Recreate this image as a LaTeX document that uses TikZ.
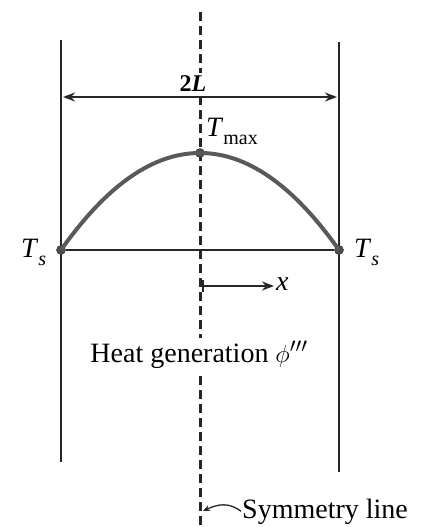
\documentclass[tikz,border=0pt]{standalone}
\usepackage{fontspec}
\setmainfont{Liberation Serif}
\usetikzlibrary{arrows.meta}
\newcommand{\subfs}{\fontsize{20}{22}\selectfont}
\begin{document}
\begin{tikzpicture}[x=1pt,y=-1pt,
  wall/.style={line width=2.6pt,black!85},
  symline/.style={line width=3pt,black!85,dash pattern=on 9pt off 5pt},
  dim/.style={line width=1.9pt,black!85,{Stealth[length=12pt,width=9pt]}-{Stealth[length=12pt,width=9pt]}},
  pt/.style={circle,fill=black!70,draw=black!85,inner sep=0pt,minimum size=9pt},
  lbl/.style={font=\fontsize{28}{32}\selectfont,inner sep=1pt}]
\useasboundingbox (0,0) rectangle (426,527);
% walls
\coordinate (lt) at (61,40); \coordinate (lb) at (61,462);
\coordinate (rt) at (339,42); \coordinate (rb) at (339,472);
\draw[wall] (lt) -- (lb);
\draw[wall] (rt) -- (rb);
% symmetry line
\coordinate (st) at (200,12); \coordinate (sb) at (200,527);
\draw[symline] (st) -- (sb);
% dimension 2L
\coordinate (dl) at (63,97); \coordinate (dr) at (337,97);
\draw[dim] (dl) -- (dr);
\node[font=\bfseries\fontsize{24}{26}\selectfont,fill=white,inner sep=2pt,anchor=base] (twoL) at (193,91) {2\textit{L}};
% base line and points
\node[pt] (tsl) at (61,250) {};
\node[pt] (tsr) at (339,250) {};
\node[pt] (tmax) at (200,153) {};
\draw[line width=1.9pt,black!85] (tsl) -- (tsr);
\draw[line width=4pt,black!65] (tsl.center) .. controls (107,185) and (153,153) .. (tmax.center)
  .. controls (247,153) and (293,185) .. (tsr.center);
\node[lbl,anchor=base west] (tmaxl) at (205,136) {\textit{T}\raisebox{-0.3em}{\subfs max}};
\node[lbl,anchor=base west] (tsll) at (20,257) {\textit{T}\raisebox{-0.3em}{\subfs\textit{s}}};
\node[lbl,anchor=base west] (tsrl) at (353,257) {\textit{T}\raisebox{-0.3em}{\subfs\textit{s}}};
% x arrow
\coordinate (x0) at (202,286);
\coordinate (x1) at (274,286);
\node[lbl,anchor=west] (xl) at (275,284) {\textit{x}};
\draw[line width=1.9pt,black!85,{Bar[width=12pt]}-{Stealth[length=12pt,width=9pt]}] (x0) -- (x1);
% heat generation
\node[lbl,fill=white,anchor=base,inner sep=3pt] (heat) at (199,362) {Heat generation $\phi'''$};
% symmetry label
\node[lbl,anchor=base west] (sym) at (241,518) {Symmetry line};
\coordinate (sa) at (203,511);
\draw[line width=1.3pt,black!85,-{Stealth[length=7pt,width=6pt]}] (sym.west) .. controls (229,502) and (218,504) .. (sa);
\end{tikzpicture}
\end{document}
